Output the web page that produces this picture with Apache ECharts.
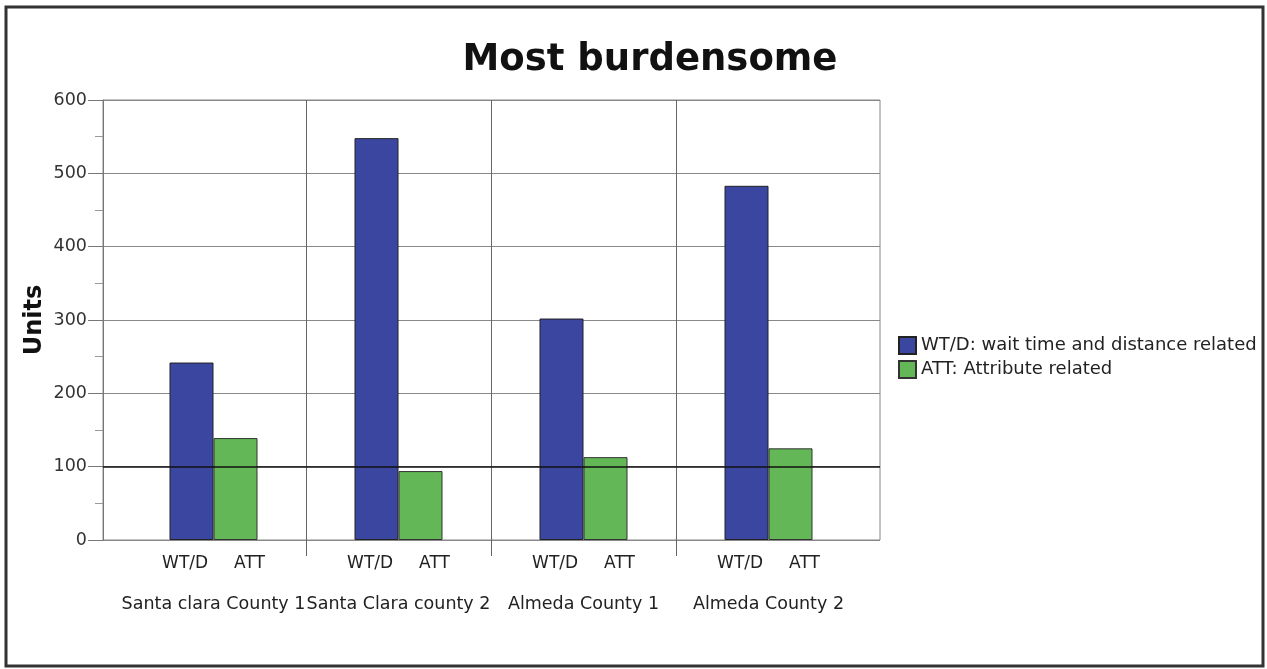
<!DOCTYPE html>
<html>
<head>
<meta charset="utf-8">
<title>Most burdensome</title>
<script src="https://cdn.jsdelivr.net/npm/echarts@6/dist/echarts.min.js"></script>
<style>
  html, body { margin: 0; padding: 0; background: #fff; }
  #chart { width: 1267px; height: 669px; }
</style>
</head>
<body>
<div id="chart"></div>
<script>
// data
const categories = ['Santa clara County 1', 'Santa Clara county 2', 'Almeda County 1', 'Almeda County 2']
const seriesNames = ['WT/D: wait time and distance related', 'ATT: Attribute related']
const shortNames = ['WT/D', 'ATT']
const wtdValues = [242, 548, 302, 483]
const attValues = [139, 94, 113, 125]
const yTicks = [0, 100, 200, 300, 400, 500, 600]

const FONT = 'DejaVu Sans'
const yMax = yTicks[yTicks.length - 1]
const plotTop = 100
const plotH = 440
const tickDrop = 16 // category dividers run this far below the zero line

const chart = echarts.init(document.getElementById('chart'))

chart.setOption({
  backgroundColor: '#fff',
  animation: false,
  title: {
    text: 'Most burdensome',
    left: 645,
    textAlign: 'center',
    top: 37,
    textStyle: { fontFamily: FONT, fontSize: 37, fontWeight: 'bold', color: '#111' },
  },
  legend: {
    orient: 'vertical',
    left: 893,
    top: 331,
    icon: 'rect',
    itemWidth: 17,
    itemHeight: 17,
    itemGap: 5,
    data: seriesNames,
    textStyle: { fontFamily: FONT, fontSize: 18, color: '#222' },
  },
  graphic: [
    {
      type: 'rect',
      shape: { x: 6, y: 7, width: 1257, height: 659 },
      style: { fill: 'none', stroke: '#333', lineWidth: 3 },
      silent: true,
    },
  ],
  grid: [
    // frame: y axis, gridlines, border
    { left: 103, top: plotTop, width: 777, height: plotH, show: true, borderColor: '#888', borderWidth: 1 },
    // bars + category dividers
    { left: 121, top: plotTop, width: 740, height: plotH + tickDrop },
  ],
  xAxis: [
    { gridIndex: 0, type: 'value', min: 0, max: 1, show: false },
    {
      gridIndex: 1,
      type: 'category',
      data: categories,
      axisLine: { show: false },
      axisTick: { show: false },
      splitLine: { show: true, showMinLine: false, showMaxLine: false, lineStyle: { color: '#666', width: 1 } },
      axisLabel: {
        interval: 0,
        margin: 0,
        formatter: (name) => `{a|${shortNames[0]}}{g|}{a|${shortNames[1]}}\n{n|${name}}`,
        rich: {
          a: { fontFamily: FONT, fontSize: 17, color: '#222', lineHeight: 16 },
          g: { width: 26 },
          n: { fontFamily: FONT, fontSize: 17.5, color: '#222', lineHeight: 64 },
        },
      },
    },
  ],
  yAxis: [
    {
      gridIndex: 0,
      type: 'value',
      min: 0,
      max: yMax,
      interval: 100,
      name: 'Units',
      nameLocation: 'middle',
      nameRotate: 90,
      nameGap: 56,
      nameMoveOverlap: false,
      nameTextStyle: { fontFamily: FONT, fontSize: 24, fontWeight: 'bold', color: '#111' },
      axisLine: { show: true, lineStyle: { color: '#777', width: 1 } },
      axisTick: { show: true, length: 15, lineStyle: { color: '#777' } },
      minorTick: { show: true, splitNumber: 2, length: 8, lineStyle: { color: '#999' } },
      splitLine: { show: true, lineStyle: { color: '#888', width: 1 } },
      axisLabel: { fontFamily: FONT, fontSize: 17.5, color: '#333', margin: 16 },
    },
    {
      gridIndex: 1,
      type: 'value',
      min: -yMax * tickDrop / plotH,
      max: yMax,
      show: false,
    },
  ],
  series: [
    {
      type: 'line',
      xAxisIndex: 0,
      yAxisIndex: 0,
      data: [],
      z: 1,
      silent: true,
      markLine: {
        silent: true,
        symbol: 'none',
        label: { show: false },
        lineStyle: { color: '#111', width: 1.5, type: 'solid' },
        data: [{ yAxis: 100 }],
      },
    },
    {
      name: seriesNames[0],
      type: 'bar',
      xAxisIndex: 1,
      yAxisIndex: 1,
      data: wtdValues,
      barWidth: 44,
      barGap: '0%',
      z: 3,
      itemStyle: { color: '#3b46a0', borderColor: '#222', borderWidth: 1 },
    },
    {
      name: seriesNames[1],
      type: 'bar',
      xAxisIndex: 1,
      yAxisIndex: 1,
      data: attValues,
      barWidth: 44,
      barGap: '0%',
      z: 3,
      itemStyle: { color: '#63b756', borderColor: '#333', borderWidth: 1 },
    },
  ],
})

window.addEventListener('resize', () => chart.resize())
</script>
</body>
</html>
